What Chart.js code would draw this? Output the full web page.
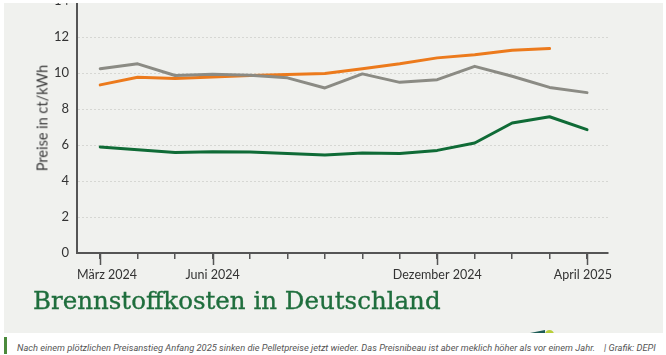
<!DOCTYPE html>
<html><head><meta charset="utf-8">
<script src="https://cdn.jsdelivr.net/npm/chart.js@4.4.1/dist/chart.umd.min.js"></script>
<style>
html,body{margin:0;padding:0;background:#fff;width:666px;height:355px;overflow:hidden;}
#panel{position:absolute;left:4px;top:3px;width:659px;height:330px;background:#f0f1ee;overflow:hidden;}
#wrap{position:absolute;left:-4px;top:-22px;width:666px;height:320px;}
#ytitle{position:absolute;left:42px;top:118px;transform:translate(-50%,-50%) rotate(-90deg);font-family:Lato,sans-serif;font-weight:400;font-size:14.5px;color:#3a3a3a;white-space:nowrap;}
#title{position:absolute;left:33px;top:285px;font-family:'DejaVu Serif',serif;font-size:24.5px;color:#1f6e3d;white-space:nowrap;line-height:32px;-webkit-text-stroke:0.35px #1f6e3d;}
#bar{position:absolute;left:4px;top:337px;width:3px;height:17px;background:#4b8a3c;}
#caption{position:absolute;left:17px;top:342px;font-family:Roboto,sans-serif;font-style:italic;font-size:9.3px;color:#555;white-space:nowrap;line-height:12px;}
#credit{position:absolute;left:604px;top:342px;font-family:Roboto,sans-serif;font-style:italic;font-size:9.3px;color:#555;white-space:nowrap;line-height:12px;}
#logoA{position:absolute;left:530px;top:330px;width:0;height:0;border-left:15px solid transparent;border-bottom:3px solid #1d5c56;}
#logoB{position:absolute;left:545px;top:330px;width:9px;height:9px;border-radius:50%;background:#b8cf3a;clip-path:inset(0 0 6px 0);}
</style></head>
<body>
<div id="panel">
  <div id="wrap"><canvas id="c" width="666" height="320"></canvas></div>
</div>
<div id="ytitle">Preise in ct/kWh</div>
<div id="title">Brennstoffkosten in Deutschland</div>
<div id="logoA"></div><div id="logoB"></div>
<div id="bar"></div>
<div id="caption">Nach einem plötzlichen Preisanstieg Anfang 2025 sinken die Pelletpreise jetzt wieder. Das Preisnibeau ist aber meklich höher als vor einem Jahr.</div>
<div id="credit">| Grafik: DEPI</div>
<script>
const months = ['März 2024','April 2024','Mai 2024','Juni 2024','Juli 2024','August 2024','September 2024','Oktober 2024','November 2024','Dezember 2024','Januar 2025','Februar 2025','März 2025','April 2025'];
const tickLabels = ['März 2024','','','Juni 2024','','','','','','Dezember 2024','','','','April 2025'];
const heizoel = [10.24,10.51,9.86,9.93,9.87,9.73,9.17,9.95,9.48,9.63,10.37,9.82,9.20,8.91];
const erdgas  = [9.34,9.76,9.69,9.78,9.86,9.91,9.97,10.24,10.51,10.84,11.02,11.26,11.36,null];
const pellets = [5.89,5.73,5.58,5.62,5.61,5.53,5.44,5.55,5.53,5.70,6.11,7.22,7.57,6.85];
const yTicks = [0,2,4,6,8,10,12,14];

const toPts = arr => arr.map((v,i)=>({x:i,y:v}));

const longTicks = {
  id:'longTicks',
  beforeDraw(chart){
    // keep the first/last month labels inside the axis span
    const sx = chart.scales.x;
    if (!sx || typeof sx._computeLabelItems !== 'function') return;
    const items = sx._computeLabelItems(chart.chartArea);
    if (!Array.isArray(items)) return;
    const firstLbl = tickLabels.find(l=>l), lastLbl = [...tickLabels].reverse().find(l=>l);
    items.forEach(it=>{
      if (!it || !it.options || !it.options.translation) return;
      if (it.label === firstLbl) { it.options.textAlign = 'left'; it.options.translation[0] = chart.chartArea.left; }
      else if (it.label === lastLbl) { it.options.textAlign = 'right'; it.options.translation[0] = chart.chartArea.right + 4; }
    });
    sx._labelItems = items;
  },
  afterDraw(chart){
    const sx = chart.scales.x, ctx = chart.ctx;
    ctx.save();
    ctx.strokeStyle = '#555'; ctx.lineWidth = 1.5;
    tickLabels.forEach((l,i)=>{
      if(!l) return;
      const px = Math.round(sx.getPixelForValue(i)) + 0.5;
      ctx.beginPath(); ctx.moveTo(px, sx.top); ctx.lineTo(px, sx.top + 12); ctx.stroke();
    });
    ctx.restore();
  }
};

new Chart(document.getElementById('c'), {
  type:'line',
  data:{datasets:[
    {label:'Heizöl', data:toPts(heizoel), borderColor:'#8b8b84', borderWidth:3},
    {label:'Erdgas', data:toPts(erdgas), borderColor:'#ec7a1c', borderWidth:3},
    {label:'Pellets', data:toPts(pellets), borderColor:'#0f6b36', borderWidth:3}
  ]},
  options:{
    responsive:false, animation:false, devicePixelRatio:1,
    layout:{padding:{top:20,left:0,right:58,bottom:0}},
    elements:{point:{radius:0,hoverRadius:0}, line:{tension:0,fill:false,borderCapStyle:'round',borderJoinStyle:'round'}},
    plugins:{legend:{display:false}, tooltip:{enabled:false}},
    scales:{
      x:{type:'linear', min:-0.62, max:13.56,
        afterFit(s){ s.height = 48; },
        ticks:{stepSize:1, includeBounds:false, autoSkip:false, maxRotation:0, padding:8, color:'#333',
          font:{family:'Lato', size:12.5},
          callback:(v)=>tickLabels[Math.round(v)] ?? ''},
        grid:{display:true, drawOnChartArea:false, drawTicks:true, tickLength:6, color:'#555', lineWidth:1.5},
        border:{display:true, color:'#555', width:2}
      },
      y:{min:0, max:14,
        afterFit(s){ s.width = 77; },
        afterBuildTicks(s){ s.ticks = yTicks.map(v=>({value:v})); },
        ticks:{padding:8, color:'#333', font:{family:'Lato', size:13}},
        grid:{drawTicks:false, color:(c)=> (c.tick && (c.tick.value===0)) ? 'rgba(0,0,0,0)' : '#d6d7d3', lineWidth:1},
        border:{display:true, color:'#555', width:2, dash:[2,2]}
      }
    }
  },
  plugins:[longTicks]
});
</script>
</body></html>
